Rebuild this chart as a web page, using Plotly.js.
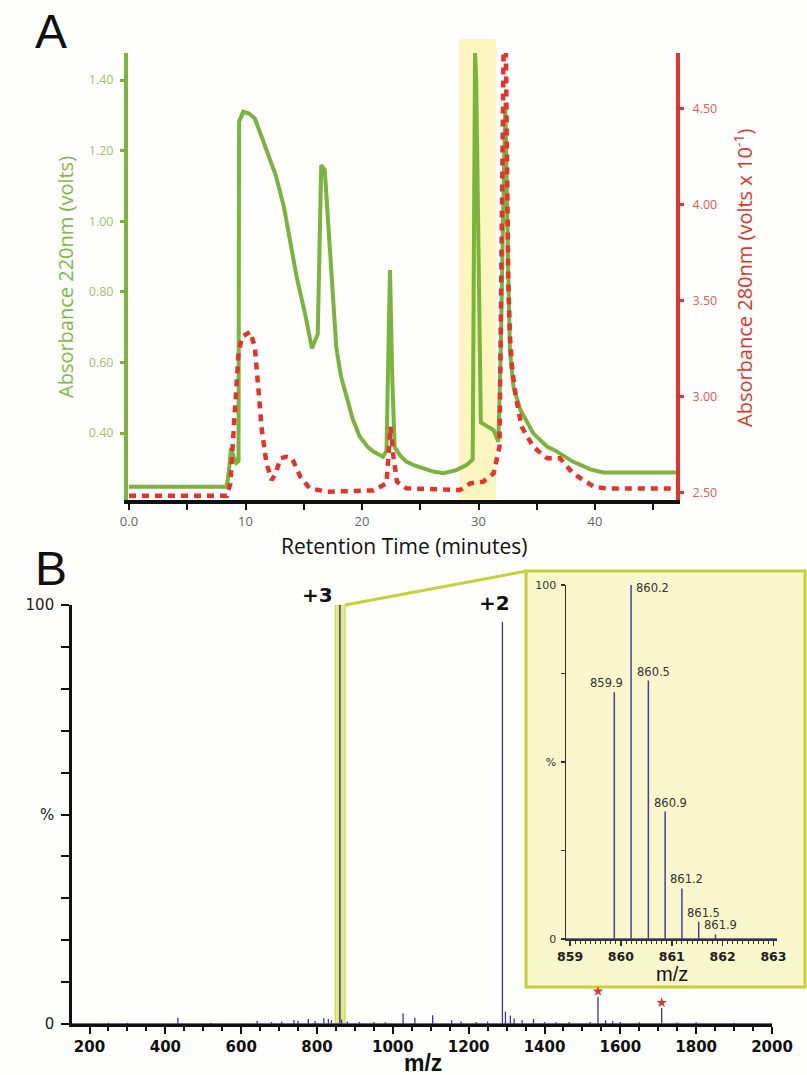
<!DOCTYPE html>
<html>
<head>
<meta charset="utf-8">
<script src="https://cdn.plot.ly/plotly-3.0.1.min.js"></script>
<style>html,body{margin:0;padding:0;background:#fefefc;}#chart{width:807px;height:1075px;}</style>
</head>
<body>
<div id="chart"></div>
<script>
// ---------- Panel A: chromatogram ----------
var rtGreen  = [0, 8.4, 8.6, 8.75, 9.0, 9.2, 9.4, 9.45, 9.8, 10.3, 10.8, 11.8, 12.6, 13.3, 13.8, 14.4, 15.1, 15.7, 16.2, 16.4, 16.5, 16.8, 17.1, 17.4, 17.8, 18.2, 18.7, 19.2, 19.8, 20.5, 21.0, 21.8, 22.1, 22.4, 22.6, 22.8, 23.3, 23.8, 24.5, 25.3, 26.2, 27.0, 28.1, 29.0, 29.5, 29.7, 29.8, 30.2, 30.85, 31.3, 31.7, 31.9, 32.1, 32.3, 32.55, 32.7, 33.0, 33.6, 34.7, 35.9, 36.6, 37.1, 38.1, 39.6, 40.7, 46.95];
var absGreen = [0.248, 0.248, 0.30, 0.357, 0.33, 0.315, 0.32, 1.282, 1.31, 1.305, 1.291, 1.202, 1.13, 1.04, 0.947, 0.84, 0.74, 0.64, 0.68, 0.94, 1.159, 1.145, 0.98, 0.83, 0.64, 0.56, 0.50, 0.44, 0.39, 0.36, 0.347, 0.333, 0.35, 0.862, 0.55, 0.361, 0.335, 0.319, 0.308, 0.30, 0.29, 0.286, 0.295, 0.31, 0.325, 1.48, 1.40, 0.43, 0.418, 0.408, 0.375, 0.62, 1.0, 1.335, 0.86, 0.63, 0.531, 0.465, 0.399, 0.361, 0.35, 0.34, 0.319, 0.297, 0.288, 0.288];

var rtRed  = [0, 8.4, 8.7, 9.1, 9.4, 9.7, 10.4, 10.8, 11.1, 11.4, 11.8, 12.25, 12.6, 13.0, 13.5, 14.0, 14.7, 15.5, 17.0, 21.0, 22.1, 22.45, 22.7, 23.0, 23.8, 28.4, 29.3, 30.4, 31.3, 31.8, 32.0, 32.15, 32.35, 32.55, 32.7, 32.9, 33.2, 33.7, 34.7, 35.9, 37.0, 38.1, 39.9, 41.0, 46.95];
var absRed = [2.482, 2.482, 2.547, 2.96, 3.224, 3.31, 3.336, 3.258, 3.068, 2.824, 2.651, 2.564, 2.60, 2.677, 2.685, 2.677, 2.581, 2.521, 2.503, 2.51, 2.547, 2.842, 2.685, 2.555, 2.521, 2.512, 2.547, 2.555, 2.599, 2.738, 3.9, 4.80, 4.80, 3.6, 3.31, 3.137, 2.998, 2.842, 2.737, 2.677, 2.677, 2.599, 2.529, 2.52, 2.52];

var rtTickVals   = [0, 5, 10, 15, 20, 25, 30, 35, 40, 45];
var rtTickText   = ["0.0", "", "10", "", "20", "", "30", "", "40", ""];
var a220TickVals = [0.4, 0.6, 0.8, 1.0, 1.2, 1.4];
var a220TickText = ["0.40", "0.60", "0.80", "1.00", "1.20", "1.40"];
var a280TickVals = [2.5, 3.0, 3.5, 4.0, 4.5];
var a280TickText = ["2.50", "3.00", "3.50", "4.00", "4.50"];
var fractionStart = 28.33, fractionEnd = 31.5;

// ---------- Panel B: mass spectrum ----------
var specMz  = [250, 300, 433, 520, 642, 680, 707, 739, 750, 777, 795, 818, 830, 838, 860, 865, 880, 912, 950, 980, 1027, 1058, 1105, 1155, 1180, 1220, 1250, 1289, 1297, 1310, 1320, 1341, 1371, 1400, 1430, 1465, 1520, 1541, 1561, 1580, 1600, 1650, 1709, 1750, 1800, 1900];
var specInt = [0.3, 0.3, 1.5, 0.3, 0.7, 0.5, 0.6, 0.9, 0.8, 1.2, 0.7, 1.4, 1.2, 0.9, 100, 1.0, 0.6, 0.5, 0.5, 0.4, 2.5, 1.5, 2.1, 0.9, 0.6, 0.5, 0.6, 96, 2.9, 2.0, 1.3, 0.9, 1.2, 0.5, 0.4, 0.5, 0.5, 6.5, 0.9, 0.7, 0.5, 0.4, 3.8, 0.4, 0.4, 0.3];
var starredMz = [1541, 1709];
var chargeLabels = ["+3", "+2"];
var mzTickVals = [200, 400, 600, 800, 1000, 1200, 1400, 1600, 1800, 2000];
var pctTickVals = [0, 10, 20, 30, 40, 50, 60, 70, 80, 90, 100];
var pctTickText = ["0", "", "", "", "", "%", "", "", "", "", "100"];

// inset: isotope envelope of the +3 ion
var isoMz  = [859.87, 860.20, 860.54, 860.87, 861.20, 861.53, 861.86];
var isoInt = [69.7, 100, 73, 36, 14.3, 4.9, 1.3];
var isoLabels = ["859.9", "860.2", "860.5", "860.9", "861.2", "861.5", "861.9"];
var insetTickVals = [859, 860, 861, 862, 863];
var insetPctVals = [0, 25, 50, 75, 100];
var insetPctText = ["0", "", "%", "", "100"];

// ---------- styles ----------
var GREEN = '#79b53c', GREEN_LT = '#9ac46c', RED = '#e6332a', RED_LT = '#e2604f';
var PURPLE = '#3d3590', LIME = '#c5d135';
var W = 807, H = 1075;
function px(x) { return x / W; }
function py(y) { return (H - y) / H; }

function sticks(mz, it, x0, x1) {
  var xs = [], ys = [];
  if (x0 !== undefined) { xs.push(x0); ys.push(0); }
  for (var i = 0; i < mz.length; i++) { xs.push(mz[i], mz[i], mz[i]); ys.push(0, it[i], 0); }
  if (x1 !== undefined) { xs.push(x1); ys.push(0); }
  return {x: xs, y: ys};
}
var spec = sticks(specMz, specInt, 153, 2000);
var topIdx = specInt.indexOf(Math.max.apply(null, specInt));
var mainPeak = sticks([specMz[topIdx]], [specInt[topIdx]]);
var starY = starredMz.map(function (m) { return specInt[specMz.indexOf(m)] + 1.3; });
var iso = sticks(isoMz, isoInt, 858.92, 863.07);

var traces = [
  {x: rtGreen, y: absGreen, xaxis: 'x', yaxis: 'y', mode: 'lines', line: {color: GREEN, width: 4}, hoverinfo: 'skip'},
  {x: rtRed, y: absRed, xaxis: 'x', yaxis: 'y2', mode: 'lines', line: {color: RED, width: 4.5, dash: '7px,6px'}, hoverinfo: 'skip'},
  {x: spec.x, y: spec.y, xaxis: 'x2', yaxis: 'y3', mode: 'lines', line: {color: PURPLE, width: 1.3}, hoverinfo: 'skip'},
  {x: mainPeak.x, y: mainPeak.y, xaxis: 'x2', yaxis: 'y3', mode: 'lines', line: {color: '#5a5a5a', width: 1.6}, hoverinfo: 'skip'},
  {x: starredMz, y: starY, xaxis: 'x2', yaxis: 'y3', mode: 'markers', marker: {symbol: 'star', size: 8, color: RED}, hoverinfo: 'skip'},
  {x: iso.x, y: iso.y, xaxis: 'x3', yaxis: 'y4', mode: 'lines', line: {color: '#4a3f9a', width: 1.5}, hoverinfo: 'skip'}
];

function paperText(text, x, y, font, extra) {
  var a = {text: text, x: px(x), y: py(y), xref: 'paper', yref: 'paper', xanchor: 'center', yanchor: 'middle', showarrow: false, font: font};
  if (extra) { for (var k in extra) { a[k] = extra[k]; } }
  return a;
}
var annotations = [
  paperText('A', 51, 31, {family: 'Liberation Sans, Arial', size: 48, color: '#111'}),
  paperText('B', 51, 568, {family: 'Liberation Sans, Arial', size: 48, color: '#111'}),
  paperText('Absorbance 220nm (volts)', 66, 277, {family: 'Open Sans', size: 20, color: '#7dba45'}, {textangle: -90}),
  paperText('Absorbance 280nm (volts x 10<sup>-1</sup>)', 743, 278, {family: 'Open Sans', size: 20, color: RED}, {textangle: -90}),
  paperText('Retention Time (minutes)', 404, 546, {family: 'Open Sans', size: 21, color: '#111'}),
  paperText('m/z', 423, 1063, {family: 'Liberation Sans, Arial', size: 23, color: '#111', weight: 'bold'}),
  paperText('m/z', 672, 974, {family: 'Liberation Sans, Arial', size: 20, color: '#111'}),
  paperText(chargeLabels[0], 317, 595, {family: 'DejaVu Sans', size: 20, color: '#111', weight: 'bold'}),
  paperText(chargeLabels[1], 494, 603, {family: 'DejaVu Sans', size: 20, color: '#111', weight: 'bold'})
];
for (var i = 0; i < isoMz.length; i++) {
  var a = {text: isoLabels[i], x: isoMz[i], y: isoInt[i], xref: 'x3', yref: 'y4', showarrow: false,
           font: {family: 'DejaVu Sans', size: 11.5, color: '#333'}, xanchor: 'center', yanchor: 'bottom', xshift: 5, yshift: 0};
  if (i === 0) { a.xshift = -8; }
  if (isoInt[i] === 100) { a.xanchor = 'left'; a.yanchor = 'middle'; a.xshift = 3; a.yshift = -3; }
  annotations.push(a);
}

var shapes = [
  {type: 'rect', xref: 'x', yref: 'paper', x0: fractionStart, x1: fractionEnd, y0: py(500), y1: py(39), fillcolor: '#fbf6c0', line: {width: 0}, layer: 'below'},
  {type: 'rect', xref: 'paper', yref: 'paper', x0: px(526), x1: px(805), y0: py(987), y1: py(571), fillcolor: '#f7f7cb', line: {color: LIME, width: 3}, layer: 'below'},
  {type: 'rect', xref: 'x2', yref: 'y3', x0: 848, x1: 874, y0: 0, y1: 100, fillcolor: '#e3e98e', line: {color: '#c9d340', width: 1}, layer: 'below'},
  {type: 'line', xref: 'paper', yref: 'paper', x0: px(345), y0: py(605), x1: px(527), y1: py(571), line: {color: LIME, width: 3}}
];

var layout = {
  width: W, height: H,
  margin: {l: 0, r: 0, t: 0, b: 0},
  paper_bgcolor: '#fefefc', plot_bgcolor: 'rgba(0,0,0,0)',
  showlegend: false,
  xaxis: {domain: [px(128), px(676)], range: [-0.086, 46.95], anchor: 'y', showgrid: false, zeroline: false,
          showline: true, linecolor: '#111', linewidth: 4, ticks: 'outside', ticklen: 6, tickwidth: 2, tickcolor: '#111',
          tickvals: rtTickVals, ticktext: rtTickText, tickfont: {family: 'Open Sans', size: 13, color: '#666'}},
  yaxis: {domain: [py(500), py(53)], range: [0.2102, 1.4765], anchor: 'x', showgrid: false, zeroline: false,
          showline: true, linecolor: GREEN, linewidth: 4, ticks: 'outside', ticklen: 4, tickwidth: 3, tickcolor: GREEN,
          tickvals: a220TickVals, ticktext: a220TickText, tickfont: {family: 'Open Sans', size: 12.5, color: GREEN_LT}, ticklabelstandoff: 4},
  yaxis2: {overlaying: 'y', side: 'right', anchor: 'x', range: [2.46, 4.788], showgrid: false, zeroline: false,
           showline: true, linecolor: RED, linewidth: 4, ticks: 'outside', ticklen: 4, tickwidth: 3, tickcolor: RED,
           tickvals: a280TickVals, ticktext: a280TickText, tickfont: {family: 'Open Sans', size: 12.5, color: RED_LT}, ticklabelstandoff: 6},
  xaxis2: {domain: [px(71.7), px(772)], range: [153, 2000], anchor: 'y3', showgrid: false, zeroline: false,
           showline: true, linecolor: '#111', linewidth: 2.5, ticks: 'outside', ticklen: 7, tickwidth: 2, tickcolor: '#111',
           tickvals: mzTickVals, tickfont: {family: 'DejaVu Sans', size: 15, color: '#111', weight: 'bold'},
           minor: {dtick: 50, tick0: 0, ticks: 'outside', ticklen: 4, tickwidth: 2, tickcolor: '#111'}},
  yaxis3: {domain: [py(1024), py(605)], range: [0, 100], anchor: 'x2', showgrid: false, zeroline: false,
           showline: true, linecolor: '#111', linewidth: 2.5, ticks: 'outside', ticklen: 8, tickwidth: 2, tickcolor: '#111',
           tickvals: pctTickVals, ticktext: pctTickText, tickfont: {family: 'DejaVu Sans', size: 15, color: '#222'}, ticklabelstandoff: 4},
  xaxis3: {domain: [px(566), px(777)], range: [858.92, 863.07], anchor: 'y4', showgrid: false, zeroline: false,
           showline: true, linecolor: '#333', linewidth: 1.5, ticks: 'outside', ticklen: 5, tickwidth: 1.5, tickcolor: '#333',
           tickvals: insetTickVals, tickfont: {family: 'DejaVu Sans', size: 12.5, color: '#222', weight: 'bold'},
           minor: {dtick: 0.1, tick0: 859, ticks: 'outside', ticklen: 3, tickwidth: 1, tickcolor: '#333'}},
  yaxis4: {domain: [py(939), py(585)], range: [0, 100], anchor: 'x3', showgrid: false, zeroline: false,
           showline: true, linecolor: '#333', linewidth: 1.5, ticks: 'outside', ticklen: 4, tickwidth: 1.5, tickcolor: '#333',
           tickvals: insetPctVals, ticktext: insetPctText, tickfont: {family: 'DejaVu Sans', size: 11, color: '#333'}, ticklabelstandoff: 2},
  annotations: annotations,
  shapes: shapes
};

Plotly.newPlot('chart', traces, layout, {displayModeBar: false, staticPlot: true});
</script>
</body>
</html>
